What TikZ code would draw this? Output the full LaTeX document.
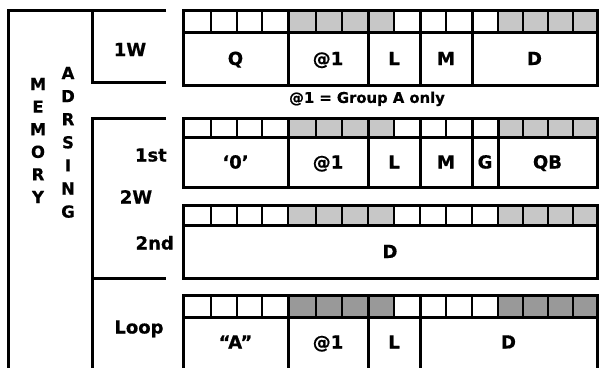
\documentclass[tikz,border=0pt]{standalone}
\usepackage{fontspec}
\setmainfont{DejaVu Sans}[BoldFeatures={FakeBold=0.6}]
\begin{document}
\begin{tikzpicture}[x=1pt,y=-1pt,
  rule/.style={line width=3pt},
  cellrule/.style={line width=2.2pt},
  lab/.style={font=\fontsize{18}{20}\selectfont\bfseries, inner sep=0pt, text height=13pt, text depth=0pt},
  captxt/.style={font=\fontsize{14.8}{16}\selectfont\bfseries, inner sep=0pt, text height=10.8pt, text depth=0pt},
  vlet/.style={font=\fontsize{16.5}{18}\selectfont\bfseries, inner sep=0pt, text height=12pt, text depth=0pt},
  lightshade/.style={fill=black!22},
  darkshade/.style={fill=black!40}]
\useasboundingbox (0,0) rectangle (600,367);
\fill[white] (0,0) rectangle (600,367);
\newcommand\bitrow[3]{%
  \fill[#3] (288,#1) rectangle (394,#2);
  \fill[#3] (498,#1) rectangle (597,#2);
  \foreach \x in {211,237,262,316,342,394,446,523,548,573}
    \draw[cellrule] (\x,#1) -- (\x,#2);
}
% left brackets
\draw[rule] (166,10) -- (8,10) -- (8,372);
\draw[rule] (92,10) -- (92,82) -- (166,82);
\draw[rule] (166,118) -- (92,118) -- (92,372);
\draw[rule] (92,278) -- (166,278);
% MEMORY / ADRSING
\foreach \l [count=\i from 0] in {M,E,M,O,R,Y}
  \node[vlet] (mem\i) at (38,84+22.6*\i) {\l};
\foreach \l [count=\i from 0] in {A,D,R,S,I,N,G}
  \node[vlet] (adr\i) at (68,73+23.1*\i) {\l};
% side labels
\node[lab] (l1w) at (130,49.5) {1W};
\node[lab, anchor=east] (l1st) at (167,155) {1st};
\node[lab] (l2w) at (136,197) {2W};
\node[lab, anchor=east] (l2nd) at (174,243) {2nd};
\node[lab] (lloop) at (139,327) {Loop};
% record 1W
\bitrow{10}{32}{lightshade}
\draw[rule] (183,10) rectangle (597,85);
\draw[rule] (183,32) -- (597,32);
\foreach \x in {288,368,420,472} \draw[rule] (\x,10) -- (\x,85);
\draw[cellrule] (498,10) -- (498,32);
\node[lab] (aq) at (235.5,58.5) {Q};
\node[lab] (aat) at (328,58.5) {@1};
\node[lab] (al) at (394,58.5) {L};
\node[lab] (am) at (446,58.5) {M};
\node[lab] (ad) at (534.5,58.5) {D};
\node[captxt] (note) at (367,97.5) {@1 = Group A only};
% record 1st
\bitrow{118}{137}{lightshade}
\draw[rule] (183,118) rectangle (597,187);
\draw[rule] (183,137) -- (597,137);
\foreach \x in {288,368,420,472,498} \draw[rule] (\x,118) -- (\x,187);
\node[lab] (bz) at (235.5,162) {‘0’};
\node[lab] (bat) at (328,162) {@1};
\node[lab] (bl) at (394,162) {L};
\node[lab] (bm) at (446,162) {M};
\node[lab] (bg) at (485,162) {G};
\node[lab] (bqb) at (547.5,162) {QB};
% record 2nd
\bitrow{205}{225}{lightshade}
\draw[rule] (183,205) rectangle (597,278);
\draw[rule] (183,225) -- (597,225);
\foreach \x in {288,368,420,472,498} \draw[cellrule] (\x,205) -- (\x,225);
\node[lab] (cd) at (390,251.5) {D};
% record Loop
\bitrow{295}{317}{darkshade}
\draw[rule] (183,372) -- (183,295) -- (597,295) -- (597,372);
\draw[rule] (183,317) -- (597,317);
\foreach \x in {288,368,420} \draw[rule] (\x,295) -- (\x,372);
\foreach \x in {472,498} \draw[cellrule] (\x,295) -- (\x,317);
\node[lab] (da) at (235.5,342) {“A”};
\node[lab] (dat) at (328,342) {@1};
\node[lab] (dl) at (394,342) {L};
\node[lab] (dd) at (508.5,342) {D};
\end{tikzpicture}
\end{document}
